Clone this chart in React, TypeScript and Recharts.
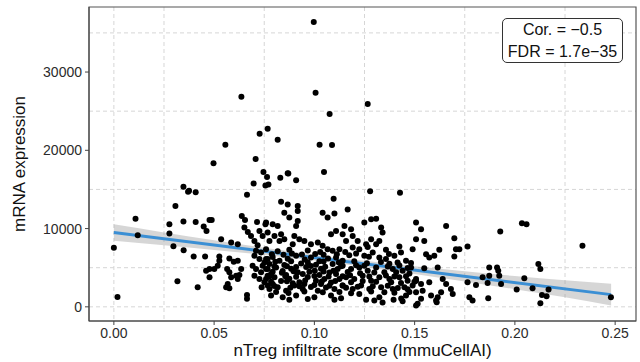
import React from 'react';
import {
  ComposedChart,
  Scatter,
  Line,
  Area,
  XAxis,
  YAxis,
  CartesianGrid,
  ReferenceArea
} from 'recharts';

const xTicks = [0, 0.05, 0.1, 0.15, 0.2, 0.25];
const xMinor = [0.025, 0.075, 0.125, 0.175, 0.225];
const yTicks = [0, 10000, 20000, 30000];
const yMinor = [5000, 15000, 25000, 35000];
const xDomain = [-0.0124, 0.2604];
const yDomain = [-1810, 38310];

// [score, expression]
const sparseTop = [
  [0.0997, 36380], [0.0636, 26850], [0.1006, 27360], [0.1266, 25920], [0.1076, 24650],
  [0.0767, 22740], [0.0727, 22110], [0.0817, 21350], [0.0556, 20710], [0.1026, 20710],
  [0.1088, 20670], [0.0497, 18340], [0.0707, 18890], [0.0746, 17240], [0.0867, 17060],
  [0.1048, 17240], [0.1278, 14780], [0.1427, 14570], [0.1096, 13810]
];

const leftPoints = [
  [0.0347, 15340], [0.037, 14700], [0.0108, 11270], [0.0307, 12870], [0.0277, 10550],
  [0.0347, 10890], [0.0119, 9150], [0.0277, 9360], [0.0, 7535], [0.0297, 7750],
  [0.0348, 7240], [0.0317, 3265], [0.0018, 1270], [0.0697, 15760], [0.0756, 15500],
  [0.0375, 14830], [0.0408, 14650], [0.0664, 14320], [0.0408, 10840], [0.0477, 11090],
  [0.0488, 11090], [0.0448, 10250], [0.0462, 9700], [0.0638, 11600], [0.0654, 11090],
  [0.0714, 10840], [0.0756, 10550], [0.0651, 10130], [0.0668, 9570], [0.0684, 9060],
  [0.0726, 9700], [0.0742, 9060], [0.0535, 8640], [0.0585, 8220], [0.0618, 8000],
  [0.0701, 8420], [0.0717, 7880], [0.0398, 6440], [0.0455, 6440], [0.0526, 6440],
  [0.0526, 5880], [0.0576, 6190], [0.0598, 5750], [0.0618, 5880], [0.0635, 4830],
  [0.0626, 4070], [0.0518, 5250], [0.0501, 4830], [0.0477, 4830], [0.046, 4610],
  [0.0477, 3770], [0.0565, 4830], [0.0576, 4410], [0.0585, 3770], [0.061, 3980],
  [0.0618, 3560], [0.0568, 2920], [0.056, 2500], [0.0576, 2380], [0.0418, 2500],
  [0.0664, 1520], [0.0664, 1020], [0.0701, 6520], [0.0726, 6100], [0.0751, 5680],
  [0.0692, 5250], [0.0709, 4830], [0.0734, 4410], [0.0759, 4830], [0.0767, 3980],
  [0.0701, 3980], [0.0726, 3560], [0.0751, 3140], [0.0767, 6100], [0.0734, 6950],
  [0.0759, 7370], [0.0709, 7150], [0.0742, 5250], [0.0737, 2500], [0.0767, 2710]
];

const midPoints = [
  [0.0764, 16600], [0.0771, 15630], [0.083, 16480], [0.087, 17030], [0.0909, 16180],
  [0.0834, 13430], [0.0867, 13090], [0.0917, 12870], [0.0917, 12240], [0.085, 12030],
  [0.0875, 11400], [0.0917, 10970], [0.0909, 10330], [0.1041, 12030], [0.1066, 11400],
  [0.11, 11940], [0.1108, 9700], [0.1083, 9280], [0.0759, 10760], [0.0792, 10550],
  [0.0817, 10330], [0.0767, 9490], [0.0801, 9060], [0.0834, 9280], [0.0776, 8420],
  [0.0826, 8420], [0.085, 8640], [0.09, 9060], [0.0925, 8640], [0.095, 8420],
  [0.0892, 8000], [0.0983, 8000], [0.1017, 8220], [0.1041, 7790], [0.1066, 7370],
  [0.1091, 7150], [0.1125, 7370],
  [0.0759, 6100], [0.0792, 6380], [0.0826, 5880], [0.0867, 6150], [0.0909, 6520],
  [0.0952, 6050], [0.0983, 6310], [0.1025, 5830], [0.1068, 6180], [0.1108, 6310],
  [0.1141, 5880], [0.0767, 4830], [0.0809, 5040], [0.0842, 4580], [0.0884, 4870],
  [0.0917, 4410], [0.0959, 5080], [0.1002, 4610], [0.1033, 4860], [0.1075, 4390],
  [0.1116, 4830], [0.0759, 3560], [0.0801, 3770], [0.0834, 3300], [0.0875, 3590],
  [0.0925, 3140], [0.0967, 3800], [0.1008, 3340], [0.105, 3560], [0.1083, 3120],
  [0.1125, 3560], [0.0776, 2290], [0.0817, 2500], [0.0859, 2070], [0.09, 2710],
  [0.0942, 2290], [0.0983, 2530], [0.1017, 2070], [0.1058, 2480], [0.11, 2290],
  [0.1141, 2710], [0.0784, 1440], [0.0842, 1230], [0.0909, 1440], [0.1, 1230],
  [0.1083, 1440], [0.0776, 5460], [0.085, 5340], [0.0934, 5550], [0.1008, 5380],
  [0.1091, 5460], [0.0784, 4190], [0.0859, 4070], [0.0942, 4190], [0.1025, 4070],
  [0.1108, 4190], [0.0792, 2920], [0.095, 2920], [0.1033, 2920]
];

const rightPoints = [
  [0.1166, 12450], [0.1507, 10760], [0.1249, 10760], [0.1283, 11180], [0.1308, 11270],
  [0.1333, 10130], [0.134, 9490], [0.115, 10330], [0.1183, 9910], [0.1141, 9280],
  [0.1191, 9060], [0.1158, 8420], [0.1216, 8420], [0.1258, 8000], [0.1283, 8640],
  [0.1308, 8000], [0.1324, 8420], [0.1507, 8640], [0.149, 7370], [0.1191, 7590],
  [0.1224, 7370], [0.1249, 6520], [0.1291, 6950], [0.1324, 6310], [0.1357, 6100],
  [0.1399, 6520], [0.1432, 6950], [0.1415, 5680], [0.1457, 5880], [0.1141, 5250],
  [0.1183, 4830], [0.1224, 5040], [0.1266, 4610], [0.1308, 5040], [0.1349, 4410],
  [0.1391, 4830], [0.144, 4610], [0.1482, 5040], [0.1158, 3770], [0.1199, 3560],
  [0.1241, 3980], [0.1283, 3340], [0.1324, 3770], [0.1374, 3560], [0.1424, 3770],
  [0.1465, 3340], [0.1507, 3560], [0.1141, 2710], [0.1191, 2290], [0.1233, 2710],
  [0.1274, 2290], [0.1333, 2500], [0.1391, 2290], [0.1449, 2500], [0.149, 2710],
  [0.1224, 1650], [0.1324, 1230], [0.1349, 1870], [0.1507, 170], [0.1457, 1440]
];

const denseFill = [
  [0.0788, 6720], [0.0846, 6650], [0.0888, 6800], [0.0938, 6690], [0.1004, 6760],
  [0.1046, 6640], [0.1112, 6720], [0.1174, 6580], [0.1208, 6810], [0.1272, 6400],
  [0.1372, 6750], [0.0805, 5750], [0.0884, 5820], [0.0967, 5700], [0.1046, 5790],
  [0.1122, 5650], [0.1199, 5810], [0.1262, 5560], [0.1332, 5740], [0.1374, 5500],
  [0.1482, 5600], [0.0801, 5150], [0.0863, 5200], [0.0909, 5090], [0.0983, 5230],
  [0.1054, 5120], [0.1133, 5180], [0.1208, 5300], [0.1249, 5240], [0.1366, 5150],
  [0.1424, 5280], [0.1465, 4950], [0.0792, 4480], [0.0838, 4350], [0.0896, 4560],
  [0.0975, 4470], [0.1046, 4520], [0.1095, 4620], [0.1166, 4450], [0.1228, 4300],
  [0.1299, 4380], [0.1408, 4420], [0.1474, 4250], [0.0776, 3880], [0.0855, 3920],
  [0.0909, 3830], [0.1, 3950], [0.1071, 3880], [0.1141, 3920], [0.1178, 4020],
  [0.1274, 3870], [0.1357, 4000], [0.1399, 3880], [0.1457, 3900], [0.0784, 3200],
  [0.0863, 3280], [0.0892, 3020], [0.0954, 3350], [0.1037, 3250], [0.1104, 3300],
  [0.1183, 3150], [0.1241, 3290], [0.1308, 3200], [0.1383, 3150], [0.1432, 3060],
  [0.1499, 3200], [0.08, 2650], [0.088, 2450], [0.0925, 2620], [0.1, 2780],
  [0.1075, 2680], [0.1158, 2450], [0.1216, 2560], [0.1291, 2620], [0.1366, 2700],
  [0.1416, 2400], [0.1465, 2250], [0.0809, 1900], [0.0871, 1780], [0.095, 1950],
  [0.1042, 1850], [0.1125, 1900], [0.1183, 1750], [0.1283, 1950], [0.1399, 1800],
  [0.1474, 1900], [0.0817, 7100], [0.0875, 7300], [0.0967, 7200], [0.1029, 7000],
  [0.1154, 7000], [0.1266, 7650], [0.1357, 7300], [0.1424, 7700], [0.0875, 900],
  [0.0967, 1000], [0.1133, 1100], [0.1258, 900], [0.1433, 1050], [0.1299, 800],
  [0.134, 550], [0.1395, 900], [0.144, 700], [0.161, 600], [0.11, 900]
];

const tailPoints = [
  [0.1532, 9910], [0.1548, 8420], [0.1657, 10330], [0.1698, 8770], [0.1706, 7370],
  [0.1723, 7370], [0.1764, 7710], [0.1698, 6440], [0.1557, 6730], [0.1573, 6310],
  [0.1598, 6520], [0.1623, 7280], [0.1927, 9620], [0.1548, 4920], [0.1615, 5040],
  [0.1872, 5040], [0.1911, 5040], [0.1917, 4610], [0.1839, 3770], [0.1872, 3980],
  [0.1764, 3140], [0.1806, 2800], [0.1864, 3050], [0.1931, 2920], [0.1773, 1230],
  [0.1789, 800], [0.1867, 1100], [0.1507, 3340], [0.1532, 2920], [0.1573, 3140],
  [0.164, 3560], [0.1657, 2920], [0.1681, 2290], [0.169, 1650], [0.1632, 1870],
  [0.1615, 1230], [0.1582, 1440], [0.1532, 1020], [0.1515, 380], [0.1607, 800],
  [0.154, 2070], [0.1507, 1870], [0.2035, 10670], [0.2058, 10550], [0.2337, 7790],
  [0.2117, 5460], [0.2127, 4830], [0.2047, 3650], [0.1922, 3980], [0.2009, 2200],
  [0.2088, 2380], [0.2168, 2200], [0.2135, 1520], [0.2158, 1360], [0.2127, 470],
  [0.2479, 1230]
];

const fitX = [0, 0.248];
const fitY = [9490, 1560];

const bandX = [0, 0.025, 0.05, 0.075, 0.1, 0.125, 0.15, 0.175, 0.2, 0.225, 0.248];
const bandLow = [8430, 7870, 7270, 6630, 5910, 5090, 4190, 3240, 2260, 1210, 180];
const bandHigh = [10550, 9510, 8510, 7550, 6670, 5890, 5190, 4540, 3940, 3390, 2940];

const points = [...sparseTop, ...leftPoints, ...midPoints, ...rightPoints, ...denseFill, ...tailPoints].map(
  ([x, y]) => ({ x, y })
);
const fitData = fitX.map((x, i) => ({ x, fit: fitY[i] }));
const bandData = bandX.map((x, i) => ({ x, band: [bandLow[i], bandHigh[i]] }));

const font = '"Liberation Sans", Arial, sans-serif';

const Dot = (props: any) => <circle cx={props.cx} cy={props.cy} r={3} fill="#000" />;

export default function App() {
  return (
    <div style={{ position: 'relative', width: 640, height: 362, fontFamily: font, background: '#fff' }}>
      <style>{'body{margin:0}'}</style>
      <ComposedChart width={640} height={362} margin={{ top: 7, right: 4, left: 0, bottom: 0 }}>
        <CartesianGrid
          stroke="#d6d6d6"
          strokeDasharray="4 3"
          horizontalValues={[...yTicks, ...yMinor]}
          verticalValues={[...xTicks, ...xMinor]}
        />
        <XAxis
          type="number"
          dataKey="x"
          domain={xDomain}
          allowDataOverflow
          ticks={xTicks}
          tickFormatter={(v: number) => v.toFixed(2)}
          height={41}
          tickSize={4}
          tickMargin={3}
          stroke="#444"
          tick={{ fill: '#2b2b2b', fontSize: 14, fontFamily: font }}
          label={{ value: 'nTreg infiltrate score (ImmuCellAI)', position: 'insideBottom', offset: 6, fill: '#111', fontSize: 17, fontFamily: font }}
        />
        <YAxis
          type="number"
          dataKey="y"
          domain={yDomain}
          allowDataOverflow
          ticks={yTicks}
          width={89}
          tickSize={4}
          tickMargin={3}
          stroke="#444"
          tick={{ fill: '#2b2b2b', fontSize: 14, fontFamily: font }}
          label={{ value: 'mRNA expression', angle: -90, position: 'insideLeft', offset: 19, fill: '#111', fontSize: 17, fontFamily: font, style: { textAnchor: 'middle' } }}
        />
        <Scatter data={points} shape={Dot} isAnimationActive={false} />
        <Area
          data={bandData}
          dataKey="band"
          type="monotone"
          stroke="none"
          fill="#999"
          fillOpacity={0.4}
          isAnimationActive={false}
        />
        <Line
          data={fitData}
          dataKey="fit"
          stroke="#3b8fd4"
          strokeWidth={3}
          dot={false}
          isAnimationActive={false}
        />
        <ReferenceArea
          x1={xDomain[0]}
          x2={xDomain[1]}
          y1={yDomain[0]}
          y2={yDomain[1]}
          fill="none"
          stroke="#555"
          strokeWidth={1.2}
        />
      </ComposedChart>
      <div
        style={{
          position: 'absolute',
          left: 502,
          top: 18,
          width: 121,
          height: 45,
          border: '1px solid #333',
          borderRadius: 5,
          background: '#fff',
          fontSize: 16,
          lineHeight: '22px',
          textAlign: 'center',
          color: '#111',
          boxSizing: 'border-box',
          paddingTop: 0
        }}
      >
        <div>Cor. = −0.5</div>
        <div>FDR = 1.7e−35</div>
      </div>
    </div>
  );
}
